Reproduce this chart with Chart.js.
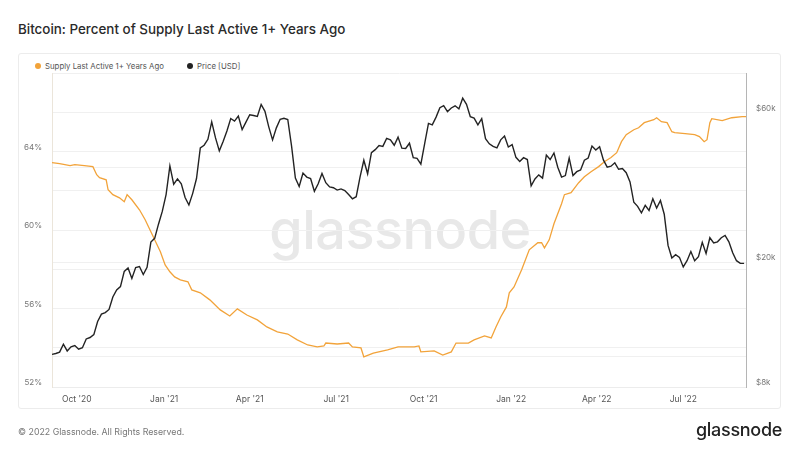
<!DOCTYPE html>
<html><head><meta charset="utf-8">
<script src="https://cdn.jsdelivr.net/npm/chart.js@4.4.0/dist/chart.umd.min.js"></script>
<style>
html,body{margin:0;padding:0;background:#fff;}
body{width:800px;height:450px;position:relative;overflow:hidden;font-family:Inter,"Noto Sans",sans-serif;}
#title{position:absolute;left:18px;top:21px;font-size:13.4px;color:#2a2a2a;font-weight:500;white-space:nowrap;}
#card{position:absolute;left:18px;top:53px;width:763px;height:356px;border:1px solid #ececec;border-radius:3px;box-sizing:border-box;}
#wm{position:absolute;left:0;width:800px;top:200px;text-align:center;font-size:54px;color:#e8e8e8;font-weight:500;line-height:60px;letter-spacing:-0.5px;}
#legend{position:absolute;left:35px;top:61px;font-size:7.8px;color:#555;white-space:nowrap;line-height:10px;}
#legend span.it{position:absolute;top:0;}
#legend i{display:inline-block;width:6px;height:6px;border-radius:50%;margin-right:4px;vertical-align:0px;}
#foot{position:absolute;left:18px;top:426px;font-size:8.8px;color:#777;}
#logo{position:absolute;right:18px;top:419px;font-size:18px;color:#222;font-weight:500;letter-spacing:-0.3px;}
canvas{position:absolute;left:0;top:0;}
</style></head>
<body>
<div id="title">Bitcoin: Percent of Supply Last Active 1+ Years Ago</div>
<div id="card"></div>
<div id="wm">glassnode</div>
<div id="legend"><span class="it" style="left:0"><i style="background:#f2a33a"></i>Supply Last Active 1+ Years Ago</span><span class="it" style="left:152px"><i style="background:#222"></i>Price [USD]</span></div>
<canvas id="c" width="800" height="450"></canvas>
<div id="foot">© 2022 Glassnode. All Rights Reserved.</div>
<div id="logo">glassnode</div>
<script>
const startDate = '2020-09-05';
const totalDays = 730;
const priceStepDays = 4;
const priceValues = [
10160,10230,10330,10950,10420,10740,10840,10550,10670,11380,11500,11750,12930,13650,13800,14130,15480,16300,16700,18680,19150,17730,19200,19360,18250,19250,23150,23800,26400,29000,
32800,40500,35400,36800,35500,32100,30400,33100,
36900,46200,47100,49200,55900,49700,45200,
48400,52300,57300,56200,58300,52800,55800,
58900,58600,58200,63500,60400,53900,49000,53500,
57000,57400,56900,46800,37000,34800,38400,37300,
36900,33600,35500,38300,35800,34700,34500,
33900,34200,33800,32800,31800,32300,37300,42200,
38200,44600,45600,47000,46700,49500,49000,47100,
50000,46100,46000,47800,43000,42800,41000,
47700,55300,54700,57900,62000,63000,60300,61900,
62900,61500,66500,63600,58100,57500,54700,
57200,49400,47600,46700,46200,49000,50400,46500,
47300,43100,41800,43000,42400,35000,36800,37900,
37000,43800,42400,44500,40100,37300,37700,
42900,37700,38800,39300,42200,42900,46800,45500,
46600,42300,40100,40400,41400,39500,39700,
38500,36000,31000,30100,28700,30300,29200,31800,
29700,31400,28400,22600,20600,21100,20700,
19300,20200,21600,20200,20800,23100,21300,23900,
23000,23200,23900,24300,23200,21400,20200,19800,
19800
];
const supplyDays = [0,8,19,24,34,43,47,50,57,59,64,71,76,79,84,92,98,103,108,114,119,124,129,135,143,147,156,166,177,187,195,205,216,226,237,248,258,269,279,286,288,300,312,316,325,328,338,353,364,381,386,388,402,411,420,425,438,444,455,462,467,472,478,481,486,494,502,511,515,518,523,528,536,539,546,554,560,567,575,581,588,594,599,604,612,617,623,633,636,641,647,652,655,666,676,681,686,689,692,694,705,715,726,730];
const supplyValues = [63.43,63.38,63.28,63.33,63.28,63.23,62.82,62.67,62.56,62.05,61.80,61.64,61.44,61.80,61.54,61.03,60.52,60.01,59.50,58.89,58.22,57.87,57.61,57.46,57.36,56.95,56.80,56.44,55.93,55.62,55.98,55.67,55.42,55.06,54.81,54.70,54.40,54.14,54.04,54.09,54.24,54.19,54.24,54.04,53.99,53.53,53.73,53.89,54.04,54.04,54.09,53.79,53.84,53.63,53.79,54.24,54.24,54.40,54.60,54.50,55.06,55.57,56.08,56.80,57.10,57.97,58.99,59.35,59.35,59.09,59.50,60.32,61.34,61.80,61.90,62.41,62.71,62.97,63.23,63.48,63.69,63.94,64.50,64.86,65.11,65.21,65.47,65.62,65.72,65.52,65.47,65.01,64.96,64.91,64.86,64.76,64.50,64.60,65.47,65.67,65.57,65.72,65.78,65.78];
const xTickDates = ['2020-10-01','2021-01-01','2021-04-01','2021-07-01','2021-10-01','2022-01-01','2022-04-01','2022-07-01'];
const xTickLabels = ["Oct '20","Jan '21","Apr '21","Jul '21","Oct '21","Jan '22","Apr '22","Jul '22"];
const leftMin = 52, leftMax = 68, leftStep = 2, leftLabelEvery = 4;
const leftLabelMax = 64;
const rightMin = 8000, rightMax = 80000;
const rightTickValues = [8000, 10000, 20000, 40000, 60000];
const rightTickLabels = {8000: '$8k', 20000: '$20k', 60000: '$60k'};

function dayOf(d){ return (Date.parse(d) - Date.parse(startDate)) / 86400000; }

const pricePoints = priceValues.map((v, i) => ({x: i * priceStepDays, y: v}));
const supplyPoints = supplyDays.map((d, i) => ({x: d, y: supplyValues[i]}));

Chart.defaults.font.family = 'Inter, "Noto Sans", sans-serif';
const gridColor = '#f0f0f0';

new Chart(document.getElementById('c'), {
  type: 'line',
  data: {
    datasets: [
      {label: 'Price [USD]', data: pricePoints, yAxisID: 'y1', borderColor: '#232323', borderWidth: 1.4, pointRadius: 0, tension: 0, order: 1},
      {label: 'Supply Last Active 1+ Years Ago', data: supplyPoints, yAxisID: 'y', borderColor: '#f2a33a', borderWidth: 1.3, pointRadius: 0, tension: 0, order: 2}
    ]
  },
  options: {
    responsive: false,
    animation: false,
    devicePixelRatio: 1,
    layout: {padding: {left: 18, right: 18, top: 73, bottom: 40}},
    plugins: {legend: {display: false}, tooltip: {enabled: false}},
    scales: {
      x: {
        type: 'linear', min: 0, max: totalDays,
        grid: {display: false, drawTicks: false},
        border: {display: true, color: '#ececec'},
        afterBuildTicks: s => { s.ticks = xTickDates.map(d => ({value: dayOf(d)})); },
        afterFit: s => { s.height = 23; },
        ticks: {autoSkip: false, maxRotation: 0, color: '#555', font: {size: 8.5}, padding: 7,
          callback: (v, i) => xTickLabels[i]}
      },
      y: {
        type: 'linear', position: 'left', min: leftMin, max: leftMax,
        grid: {color: gridColor, drawTicks: false},
        border: {color: '#ebe5da'},
        afterFit: s => { s.width = 34; },
        ticks: {stepSize: leftStep, color: '#777', font: {size: 8}, padding: 10, labelOffset: -4,
          callback: v => (v % leftLabelEvery === 0 && v <= leftLabelMax ? v + '%' : '')}
      },
      y1: {
        type: 'logarithmic', position: 'right', min: rightMin, max: rightMax,
        grid: {color: gridColor, drawTicks: false},
        border: {color: '#b5b5b5'},
        afterBuildTicks: s => { s.ticks = rightTickValues.map(v => ({value: v})); },
        afterFit: s => { s.width = 36; },
        ticks: {autoSkip: false, color: '#777', font: {size: 8}, padding: 10, labelOffset: -4,
          callback: v => rightTickLabels[v] || ''}
      }
    }
  }
});
</script>
</body></html>
